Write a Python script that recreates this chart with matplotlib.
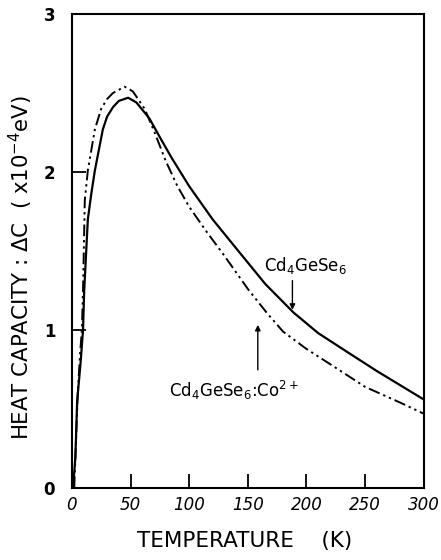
import numpy as np
import matplotlib
matplotlib.use('Agg')
import matplotlib.pyplot as plt

plt.rcParams['font.family'] = ['DejaVu Sans']
plt.rcParams['mathtext.fontset'] = 'dejavusans'

# Cd4GeSe6 (solid line)
t_pure = [1, 3, 4.5, 7.5, 9.5, 10.5, 13.6, 16.5, 19.6, 26.4, 30, 35, 40, 48, 55, 66,
          75, 85, 100, 120, 143, 165, 189, 210, 237, 260, 280, 300]
c_pure = [0.0, 0.2, 0.55, 0.8, 1.0, 1.25, 1.7, 1.86, 2.01, 2.27, 2.35, 2.41, 2.45, 2.47,
          2.44, 2.34, 2.22, 2.09, 1.91, 1.70, 1.49, 1.29, 1.11, 0.98, 0.85, 0.74, 0.65, 0.56]

# Cd4GeSe6:Co2+ (dash-dot-dot line)
t_co = [2, 3.5, 5, 7, 8.5, 9.5, 11, 13.6, 19.6, 25, 29.8, 35, 45, 52, 62, 70, 80, 90,
        100, 115, 129, 150, 166, 180, 200, 223, 250, 280, 300]
c_co = [0.0, 0.3, 0.6, 0.85, 1.0, 1.25, 1.82, 2.01, 2.27, 2.40, 2.46, 2.50, 2.54, 2.51,
        2.40, 2.26, 2.07, 1.91, 1.78, 1.62, 1.48, 1.26, 1.11, 0.99, 0.88, 0.77, 0.64, 0.54, 0.47]

fig = plt.figure(figsize=(4.41, 5.6), dpi=100)
ax = fig.add_axes([0.163, 0.1286, 0.798, 0.8464])

ax.plot(t_pure, c_pure, color='black', lw=1.6)
ax.plot(t_co, c_co, color='black', lw=1.4, dashes=(6, 2, 1.2, 2, 1.2, 2))

ax.set_xlim(0, 300)
ax.set_ylim(0, 3)
ax.set_xticks([0, 50, 100, 150, 200, 250, 300])
ax.set_yticks([0, 1, 2, 3])
ax.tick_params(direction='in', length=10, width=1.3, labelsize=12)
ax.tick_params(axis='x', pad=6)
ax.tick_params(axis='y', pad=12)
for lab in ax.get_xticklabels():
    lab.set_fontstyle('italic')
for lab in ax.get_yticklabels():
    lab.set_fontweight('bold')
for sp in ax.spines.values():
    sp.set_linewidth(1.5)

ax.set_xlabel('TEMPERATURE    (K)', fontsize=15.5)
ax.set_ylabel(r'HEAT CAPACITY : $\Delta$C  ( x10$^{-4}$eV)', fontsize=15.3)
ax.xaxis.set_label_coords(0.49, -0.09)
ax.yaxis.set_label_coords(-0.105, 0.464)

# labels and arrows
ax.text(199.5, 1.41, r'Cd$_4$GeSe$_6$', fontsize=12, ha='center', va='center')
ax.annotate('', xy=(188, 1.11), xytext=(188, 1.33),
            arrowprops=dict(arrowstyle='-|>', color='black', lw=1, mutation_scale=8))
ax.text(138, 0.62, r'Cd$_4$GeSe$_6$:Co$^{2+}$', fontsize=12, ha='center', va='center')
ax.annotate('', xy=(158.5, 1.05), xytext=(158.5, 0.73),
            arrowprops=dict(arrowstyle='-|>', color='black', lw=1, mutation_scale=8))

fig.savefig('out.png', dpi=100)
